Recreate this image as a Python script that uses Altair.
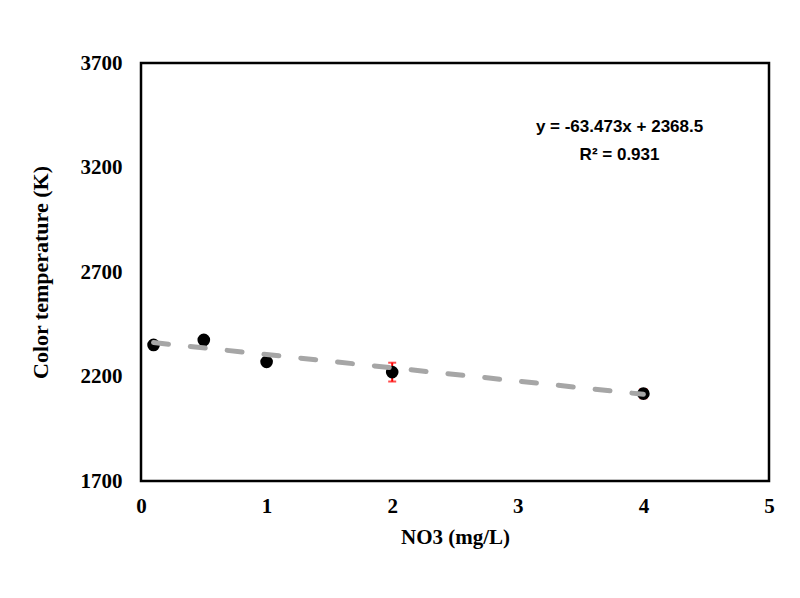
import altair as alt
import pandas as pd

no3 = [0.1, 0.5, 1, 2, 4]
temp = [2351, 2375, 2270, 2221, 2118]
err = [6, 6, 6, 45, 22]

fit_x = [0.1, 4.0]
slope = -63.473
intercept = 2368.5

eq_lines = ["y = -63.473x + 2368.5", "R² = 0.931"]
eq_x = [3.81, 3.81]
eq_y = [3392, 3262]

df = pd.DataFrame({"x": no3, "y": temp, "lo": [t - e for t, e in zip(temp, err)],
                   "hi": [t + e for t, e in zip(temp, err)]})
fit = pd.DataFrame({"x": fit_x, "y": [slope * v + intercept for v in fit_x]})
ann = pd.DataFrame({"x": eq_x, "y": eq_y, "t": eq_lines})

xs = alt.Scale(domain=[0, 5], nice=False)
ys = alt.Scale(domain=[1700, 3700], nice=False, zero=False)

xaxis = alt.Axis(title="NO3 (mg/L)", values=[0, 1, 2, 3, 4, 5], format="d", ticks=False,
                 grid=False, domain=False, labelFont="Liberation Serif", labelFontSize=21,
                 labelFontWeight="bold", labelColor="black", labelPadding=14,
                 labelFlush=False,
                 titleFont="Liberation Serif", titleFontSize=21, titleFontWeight="bold",
                 titleColor="black", titlePadding=10)
yaxis = alt.Axis(title="Color temperature (K)", values=[1700, 2200, 2700, 3200, 3700],
                 format="d", ticks=False, grid=False, domain=False,
                 labelFont="Liberation Serif", labelFontSize=21, labelFontWeight="bold",
                 labelColor="black", labelPadding=19, labelFlush=False,
                 titleFont="Liberation Serif", titleFontSize=22, titleFontWeight="bold",
                 titleColor="black", titlePadding=28)

line = alt.Chart(fit).mark_line(color="#a6a6a6", strokeWidth=5, strokeDash=[15, 22],
                                strokeCap="round").encode(
    x=alt.X("x:Q", scale=xs, axis=xaxis), y=alt.Y("y:Q", scale=ys, axis=yaxis))

errs = alt.Chart(df).mark_rule(color="#ff0000", strokeWidth=2).encode(
    x="x:Q", y="lo:Q", y2="hi:Q")
cap_lo = alt.Chart(df).mark_tick(color="#ff0000", orient="horizontal", size=8,
                                 thickness=2).encode(x="x:Q", y="lo:Q")
cap_hi = alt.Chart(df).mark_tick(color="#ff0000", orient="horizontal", size=8,
                                 thickness=2).encode(x="x:Q", y="hi:Q")

pts = alt.Chart(df).mark_circle(color="black", size=160, opacity=1).encode(x="x:Q", y="y:Q")

text = alt.Chart(ann).mark_text(font="Liberation Sans", fontSize=17, fontWeight="bold",
                                color="black", align="center").encode(
    x="x:Q", y="y:Q", text="t:N")

chart = alt.layer(errs, cap_lo, cap_hi, pts, line, text).properties(
    width=628, height=418,
    background="white",
    padding={"left": 141, "top": 63, "right": 31, "bottom": 117},
    autosize=alt.AutoSizeParams(type="none"),
).configure_view(stroke="black", strokeWidth=2.5)

chart.save("out.html", embed_options={"renderer": "svg", "actions": False})
